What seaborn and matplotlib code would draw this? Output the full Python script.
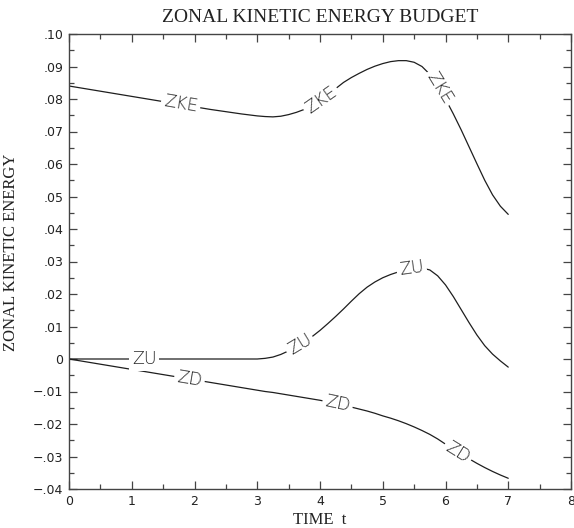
import numpy as np
import pandas as pd
import matplotlib
matplotlib.use("Agg")
import matplotlib.pyplot as plt
import seaborn as sns

# Time axis (t) and the three budget terms
t = [0.0, 0.25, 0.5, 0.75, 1.0, 1.25, 1.5, 1.75, 2.0, 2.25, 2.5, 2.75, 3.0,
     3.125, 3.25, 3.375, 3.5, 3.625, 3.75, 3.875, 4.0,
     4.125, 4.25, 4.375, 4.5, 4.625, 4.75, 4.875, 5.0,
     5.125, 5.25, 5.375, 5.5, 5.625, 5.75, 5.875, 6.0,
     6.125, 6.25, 6.375, 6.5, 6.625, 6.75, 6.875, 7.0]

zke = [0.0840, 0.0832, 0.0824, 0.0816, 0.0808, 0.0800, 0.0792, 0.0785, 0.0776, 0.0768,
       0.0761, 0.0754, 0.0748,
       0.0746, 0.0745, 0.0747, 0.0752, 0.0759, 0.0768, 0.0779, 0.0793,
       0.0812, 0.0832, 0.0851, 0.0866, 0.0879, 0.0891, 0.0901, 0.0909,
       0.0915, 0.0918, 0.0918, 0.0913, 0.0900, 0.0876, 0.0842, 0.0800,
       0.0754, 0.0705, 0.0653, 0.0601, 0.0550, 0.0505, 0.0470, 0.0445]

zu = [0.0, 0.0, 0.0, 0.0, 0.0, 0.0, 0.0, 0.0, 0.0, 0.0,
      0.0, 0.0, 0.0,
      0.0002, 0.0006, 0.0014, 0.0025, 0.0037, 0.0052, 0.0069, 0.0088,
      0.0109, 0.0131, 0.0154, 0.0178, 0.0201, 0.0221, 0.0237, 0.0250,
      0.0260, 0.0268, 0.0275, 0.0279, 0.0280, 0.0274, 0.0256, 0.0228,
      0.0192, 0.0152, 0.0112, 0.0074, 0.0041, 0.0015, -0.0006, -0.0025]

zd = [0.0, -0.0008, -0.0016, -0.0024, -0.0032, -0.0040, -0.0048, -0.0056, -0.0064, -0.0072,
      -0.0080, -0.0088, -0.0096,
      -0.0100, -0.0103, -0.0107, -0.0111, -0.0115, -0.0119, -0.0123, -0.0127,
      -0.0132, -0.0137, -0.0142, -0.0148, -0.0154, -0.0160, -0.0167, -0.0175,
      -0.0182, -0.0190, -0.0199, -0.0209, -0.0220, -0.0232, -0.0246, -0.0262,
      -0.0277, -0.0292, -0.0307, -0.0321, -0.0334, -0.0346, -0.0357, -0.0367]

# Inline curve labels: (series name, position along t)
curve_labels = [("ZKE", 1.78), ("ZKE", 4.02), ("ZKE", 5.90),
                ("ZU", 1.20), ("ZU", 3.68), ("ZU", 5.46),
                ("ZD", 1.92), ("ZD", 4.28), ("ZD", 6.20)]

x_ticks = [0, 1, 2, 3, 4, 5, 6, 7, 8]
y_ticks = [-0.04, -0.03, -0.02, -0.01, 0.0, 0.01, 0.02, 0.03, 0.04, 0.05,
           0.06, 0.07, 0.08, 0.09, 0.10]

series = {"ZKE": zke, "ZU": zu, "ZD": zd}

df = pd.DataFrame({"t": t * 3,
                   "value": zke + zu + zd,
                   "term": ["ZKE"] * len(t) + ["ZU"] * len(t) + ["ZD"] * len(t)})

sns.set_theme(style="ticks")
plt.rcParams["font.family"] = ["DejaVu Sans"]

fig = plt.figure(figsize=(5.74, 5.28), dpi=100)
ax = fig.add_axes([69 / 574, 39 / 528, 502 / 574, 455 / 528])

line_color = "#1e1e1e"
sns.lineplot(data=df, x="t", y="value", hue="term",
             palette={"ZKE": line_color, "ZU": line_color, "ZD": line_color},
             linewidth=0.9, legend=False, ax=ax, estimator=None, sort=True)

ax.set_xlim(0, 8)
ax.set_ylim(-0.04, 0.10)

# Ticks on all four sides, pointing inward, with minor ticks
ax.set_xticks(x_ticks)
ax.set_xticks(np.arange(0.5, 8, 1.0), minor=True)
ax.set_yticks(y_ticks)
ax.set_yticks(np.arange(-0.035, 0.10, 0.01), minor=True)


def fmt_y(v):
    if abs(v) < 1e-9:
        return "0"
    s = f"{abs(v):.2f}".lstrip("0")
    return ("\u2212" + s) if v < 0 else s


ax.set_xticklabels([str(v) for v in x_ticks], fontsize=9, color="#222222")
ax.set_yticklabels([fmt_y(v) for v in y_ticks], fontsize=9, color="#222222")
ax.tick_params(which="both", direction="in", top=True, right=True, color="#444444",
               width=0.9)
ax.tick_params(which="major", length=6, pad=4)
ax.tick_params(which="minor", length=3.5)
for sp in ax.spines.values():
    sp.set_color("#444444")
    sp.set_linewidth(1.0)

serif = ["Liberation Serif", "DejaVu Serif"]
ax.set_title("ZONAL KINETIC ENERGY BUDGET", family=serif, fontsize=14,
             color="#222222", pad=9)
ax.set_xlabel("TIME  t", family=serif, fontsize=12, color="#222222", labelpad=3)
ax.set_ylabel("ZONAL KINETIC ENERGY", family=serif, fontsize=12, color="#222222")
ax.yaxis.set_label_coords(-0.099, 0.52)

# Labels written along each curve, rotated to follow its local slope
fig.canvas.draw()
for name, tc in curve_labels:
    ys = series[name]
    yc = float(np.interp(tc, t, ys))
    dt = 0.12
    p0 = ax.transData.transform((tc - dt, np.interp(tc - dt, t, ys)))
    p1 = ax.transData.transform((tc + dt, np.interp(tc + dt, t, ys)))
    ang = np.degrees(np.arctan2(p1[1] - p0[1], p1[0] - p0[0]))
    ax.text(tc, yc, name, fontsize=12.5, color="#262626", ha="center", va="center",
            rotation=ang, rotation_mode="anchor", fontweight="light",
            bbox=dict(facecolor="white", edgecolor="none", pad=2.0), zorder=5)

fig.savefig("out.png", dpi=100)
